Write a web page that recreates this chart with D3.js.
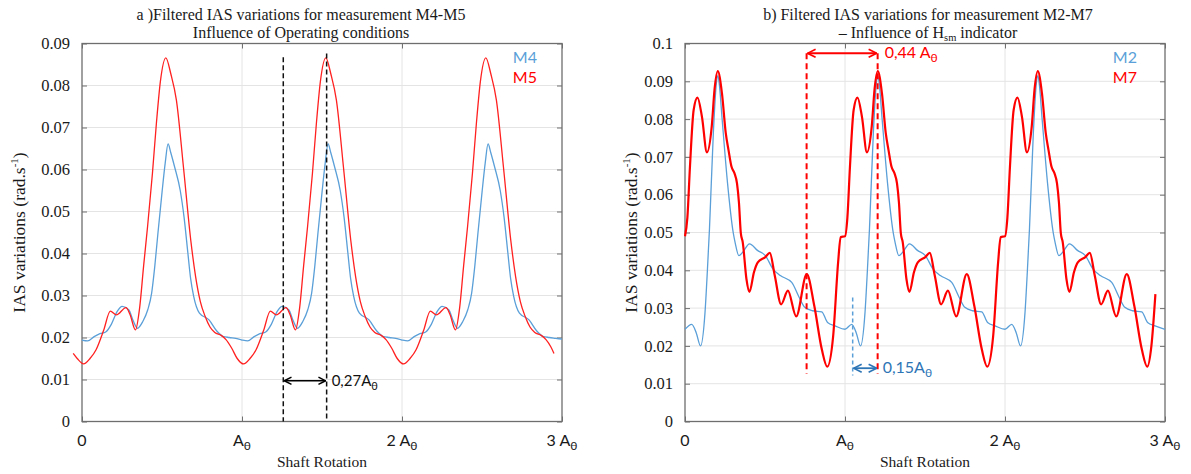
<!DOCTYPE html>
<html><head><meta charset="utf-8">
<script src="https://cdn.jsdelivr.net/npm/d3@7"></script>
<style>body{margin:0;background:#fff}svg{display:block}</style>
</head><body>
<svg id="c" width="1191" height="474"></svg>
<script>
// ---------------- data ----------------
const xTickValues = [0, 1, 2, 3];
const xTickLabels = ["0", "A", "2 A", "3 A"];
const yTicksLeft = [0, 0.01, 0.02, 0.03, 0.04, 0.05, 0.06, 0.07, 0.08, 0.09];
const yTickLabelsLeft = ["0", "0.01", "0.02", "0.03", "0.04", "0.05", "0.06", "0.07", "0.08", "0.09"];
const yTicksRight = [0, 0.01, 0.02, 0.03, 0.04, 0.05, 0.06, 0.07, 0.08, 0.09, 0.1];
const yTickLabelsRight = ["0", "0.01", "0.02", "0.03", "0.04", "0.05", "0.06", "0.07", "0.08", "0.09", "0.1"];

// (a) M4 - blue
const m4 = [
 [0.000,0.0194],[0.035,0.0192],[0.076,0.0202],[0.112,0.0209],[0.148,0.0213],[0.184,0.0232],[0.220,0.0262],[0.251,0.0274],[0.292,0.0266],[0.320,0.0240],[0.347,0.0222],[0.380,0.0238],[0.411,0.0266],[0.435,0.0305],[0.455,0.0370],[0.475,0.0450],[0.500,0.0545],[0.520,0.0615],[0.538,0.0661],[0.555,0.0640],[0.579,0.0606],[0.614,0.0550],[0.638,0.0486],[0.662,0.0400],[0.679,0.0340],[0.698,0.0298],[0.734,0.0258],[0.794,0.0242],[0.841,0.0216],[0.880,0.0203],[0.920,0.0200],[0.960,0.0198],
 [1.000,0.0194],[1.035,0.0192],[1.076,0.0202],[1.112,0.0209],[1.148,0.0213],[1.184,0.0232],[1.220,0.0262],[1.251,0.0274],[1.292,0.0266],[1.320,0.0240],[1.347,0.0222],[1.380,0.0238],[1.411,0.0266],[1.435,0.0305],[1.455,0.0370],[1.475,0.0450],[1.500,0.0545],[1.520,0.0615],[1.538,0.0661],[1.555,0.0640],[1.579,0.0606],[1.614,0.0550],[1.638,0.0486],[1.662,0.0400],[1.679,0.0340],[1.698,0.0298],[1.734,0.0258],[1.794,0.0242],[1.841,0.0216],[1.880,0.0203],[1.920,0.0200],[1.960,0.0198],
 [2.000,0.0194],[2.035,0.0192],[2.076,0.0202],[2.112,0.0209],[2.148,0.0213],[2.184,0.0232],[2.220,0.0262],[2.251,0.0274],[2.292,0.0266],[2.320,0.0240],[2.347,0.0222],[2.380,0.0238],[2.411,0.0266],[2.435,0.0305],[2.455,0.0370],[2.475,0.0450],[2.500,0.0545],[2.520,0.0615],[2.538,0.0661],[2.555,0.0640],[2.579,0.0606],[2.614,0.0550],[2.638,0.0486],[2.662,0.0400],[2.679,0.0340],[2.698,0.0298],[2.734,0.0258],[2.794,0.0242],[2.841,0.0216],[2.880,0.0203],[2.920,0.0200],[2.960,0.0198],[3.000,0.0196]
];
// (a) M5 - red
const m5 = [
 [-0.055,0.0162],[-0.030,0.0150],
 [0.010,0.0137],[0.050,0.0150],[0.088,0.0171],[0.136,0.0218],[0.177,0.0263],[0.215,0.0254],[0.275,0.0271],[0.300,0.0255],[0.334,0.0218],[0.360,0.0270],[0.385,0.0370],[0.410,0.0465],[0.440,0.0590],[0.465,0.0710],[0.490,0.0810],[0.524,0.0866],[0.555,0.0828],[0.590,0.0765],[0.634,0.0606],[0.680,0.0431],[0.710,0.0345],[0.740,0.0285],[0.770,0.0250],[0.800,0.0225],[0.830,0.0212],[0.870,0.0205],[0.900,0.0195],[0.935,0.0175],[0.970,0.0150],
 [1.010,0.0137],[1.050,0.0150],[1.088,0.0171],[1.136,0.0218],[1.177,0.0263],[1.215,0.0254],[1.275,0.0271],[1.300,0.0255],[1.334,0.0218],[1.360,0.0270],[1.385,0.0370],[1.410,0.0465],[1.440,0.0590],[1.465,0.0710],[1.490,0.0810],[1.524,0.0866],[1.555,0.0828],[1.590,0.0765],[1.634,0.0606],[1.680,0.0431],[1.710,0.0345],[1.740,0.0285],[1.770,0.0250],[1.800,0.0225],[1.830,0.0212],[1.870,0.0205],[1.900,0.0195],[1.935,0.0175],[1.970,0.0150],
 [2.010,0.0137],[2.050,0.0150],[2.088,0.0171],[2.136,0.0218],[2.177,0.0263],[2.215,0.0254],[2.275,0.0271],[2.300,0.0255],[2.334,0.0218],[2.360,0.0270],[2.385,0.0370],[2.410,0.0465],[2.440,0.0590],[2.465,0.0710],[2.490,0.0810],[2.524,0.0866],[2.555,0.0828],[2.590,0.0765],[2.634,0.0606],[2.680,0.0431],[2.710,0.0345],[2.740,0.0285],[2.770,0.0250],[2.800,0.0225],[2.830,0.0212],[2.870,0.0205],[2.900,0.0195],[2.930,0.0178],[2.950,0.0162]
];
// (b) M2 - blue
const m2 = [
 [0.000,0.0244],[0.042,0.0257],[0.070,0.0235],[0.097,0.0200],[0.125,0.0288],[0.140,0.0400],[0.153,0.0510],[0.177,0.0762],[0.195,0.0890],[0.205,0.0915],[0.215,0.0890],[0.231,0.0806],[0.266,0.0630],[0.302,0.0498],[0.313,0.0474],[0.337,0.0439],[0.361,0.0448],[0.403,0.0470],[0.455,0.0452],[0.502,0.0439],[0.549,0.0404],[0.596,0.0386],[0.667,0.0368],[0.714,0.0328],[0.749,0.0302],[0.797,0.0293],[0.855,0.0290],[0.891,0.0262],[0.938,0.0253],
 [1.000,0.0244],[1.042,0.0257],[1.070,0.0235],[1.097,0.0200],[1.125,0.0288],[1.140,0.0400],[1.153,0.0510],[1.177,0.0762],[1.195,0.0890],[1.205,0.0915],[1.215,0.0890],[1.231,0.0806],[1.266,0.0630],[1.302,0.0498],[1.313,0.0474],[1.337,0.0439],[1.361,0.0448],[1.403,0.0470],[1.455,0.0452],[1.502,0.0439],[1.549,0.0404],[1.596,0.0386],[1.667,0.0368],[1.714,0.0328],[1.749,0.0302],[1.797,0.0293],[1.855,0.0290],[1.891,0.0262],[1.938,0.0253],
 [2.000,0.0244],[2.042,0.0257],[2.070,0.0235],[2.097,0.0200],[2.125,0.0288],[2.140,0.0400],[2.153,0.0510],[2.177,0.0762],[2.195,0.0890],[2.205,0.0915],[2.215,0.0890],[2.231,0.0806],[2.266,0.0630],[2.302,0.0498],[2.313,0.0474],[2.337,0.0439],[2.361,0.0448],[2.403,0.0470],[2.455,0.0452],[2.502,0.0439],[2.549,0.0404],[2.596,0.0386],[2.667,0.0368],[2.714,0.0328],[2.749,0.0302],[2.797,0.0293],[2.855,0.0290],[2.891,0.0262],[2.938,0.0253],[3.000,0.0244]
];
// (b) M7 - red
const m7 = [
 [0.000,0.0490],[0.015,0.0540],[0.031,0.0674],[0.054,0.0824],[0.078,0.0857],[0.106,0.0806],[0.137,0.0712],[0.167,0.0780],[0.185,0.0880],[0.205,0.0927],[0.231,0.0868],[0.255,0.0762],[0.272,0.0718],[0.290,0.0675],[0.309,0.0657],[0.325,0.0630],[0.337,0.0580],[0.349,0.0498],[0.361,0.0474],[0.384,0.0377],[0.403,0.0343],[0.431,0.0395],[0.455,0.0421],[0.502,0.0435],[0.530,0.0446],[0.561,0.0386],[0.601,0.0310],[0.643,0.0346],[0.695,0.0278],[0.761,0.0390],[0.808,0.0306],[0.855,0.0191],[0.889,0.0145],[0.926,0.0226],[0.957,0.0421],[0.973,0.0488],
 [1.000,0.0490],[1.015,0.0540],[1.031,0.0674],[1.054,0.0824],[1.078,0.0857],[1.106,0.0806],[1.137,0.0712],[1.167,0.0780],[1.185,0.0880],[1.205,0.0927],[1.231,0.0868],[1.255,0.0762],[1.272,0.0718],[1.290,0.0675],[1.309,0.0657],[1.325,0.0630],[1.337,0.0580],[1.349,0.0498],[1.361,0.0474],[1.384,0.0377],[1.403,0.0343],[1.431,0.0395],[1.455,0.0421],[1.502,0.0435],[1.530,0.0446],[1.561,0.0386],[1.601,0.0310],[1.643,0.0346],[1.695,0.0278],[1.761,0.0390],[1.808,0.0306],[1.855,0.0191],[1.889,0.0145],[1.926,0.0226],[1.957,0.0421],[1.973,0.0488],
 [2.000,0.0490],[2.015,0.0540],[2.031,0.0674],[2.054,0.0824],[2.078,0.0857],[2.106,0.0806],[2.137,0.0712],[2.167,0.0780],[2.185,0.0880],[2.205,0.0927],[2.231,0.0868],[2.255,0.0762],[2.272,0.0718],[2.290,0.0675],[2.309,0.0657],[2.325,0.0630],[2.337,0.0580],[2.349,0.0498],[2.361,0.0474],[2.384,0.0377],[2.403,0.0343],[2.431,0.0395],[2.455,0.0421],[2.502,0.0435],[2.530,0.0446],[2.561,0.0386],[2.601,0.0310],[2.643,0.0346],[2.695,0.0278],[2.761,0.0390],[2.808,0.0306],[2.855,0.0191],[2.889,0.0145],[2.915,0.0200],[2.940,0.0337]
];

// annotation values (data units)
const leftMarkX = [1.258, 1.529];
const leftMarkTop = [0.0867, 0.0876];
const leftArrowY = 0.0097;
const rightRedX = [0.760, 1.204];
const rightRedSpan = [0.0974, 0.0126];
const rightBlueX = 1.048;
const rightBlueSpan = [0.0328, 0.0122];
const rightBlueArrowY = 0.0141;

// ---------------- drawing ----------------
const svg = d3.select("#c");
const SERIF = "'Liberation Serif','Times New Roman',serif";
const SANS = "Lato, 'Open Sans', sans-serif";
const BLUE = "#5a9fd8", RED = "#ff0000", DBLUE = "#2e75b6";

const defs = svg.append("defs");
function marker(id, color, size) {
  defs.append("marker").attr("id", id).attr("viewBox", "0 0 10 10")
    .attr("refX", 9.5).attr("refY", 5).attr("markerWidth", size).attr("markerHeight", size)
    .attr("markerUnits", "userSpaceOnUse").attr("orient", "auto-start-reverse")
    .append("path").attr("d", "M1.5,1 L9.5,5 L1.5,9").attr("fill", "none")
    .attr("stroke", color).attr("stroke-width", 1.6);
}
marker("arK", "#000", 9);
marker("arR", RED, 10);
marker("arB", DBLUE, 10);

function panel(cfg) {
  const g = svg.append("g");
  const x = d3.scaleLinear().domain([0, 3]).range([cfg.x0, cfg.x1]);
  const y = d3.scaleLinear().domain([0, cfg.yMax]).range([cfg.y1, cfg.y0]);

  // grid
  g.selectAll(".gy").data(cfg.yTicks.filter(v => v > 0 && v < cfg.yMax - 1e-9)).enter().append("line")
    .attr("x1", cfg.x0).attr("x2", cfg.x1).attr("y1", d => y(d)).attr("y2", d => y(d))
    .attr("stroke", "#e4e4e4").attr("stroke-width", 1);
  g.selectAll(".gx").data(xTickValues.filter(v => v > 0 && v < 3)).enter().append("line")
    .attr("y1", cfg.y0).attr("y2", cfg.y1).attr("x1", d => x(d)).attr("x2", d => x(d))
    .attr("stroke", "#e4e4e4").attr("stroke-width", 1);

  // axes using d3 axis (inner ticks), styled
  const yAxisL = d3.axisLeft(y).tickValues(cfg.yTicks).tickSize(-5).tickFormat((d, i) => cfg.yLabels[i]).tickPadding(12);
  const yAl = g.append("g").attr("transform", `translate(${cfg.x0},0)`).call(yAxisL);
  yAl.select(".domain").remove();
  yAl.selectAll("line").attr("stroke", "#707070");
  yAl.selectAll("text").attr("font-family", SERIF).attr("font-size", 16.5).attr("fill", "#1a1a1a");
  const yAxisR = d3.axisRight(y).tickValues(cfg.yTicks).tickSize(-5).tickFormat("");
  const yAr = g.append("g").attr("transform", `translate(${cfg.x1},0)`).call(yAxisR);
  yAr.select(".domain").remove();
  yAr.selectAll("line").attr("stroke", "#707070");
  const xAxisB = d3.axisBottom(x).tickValues(xTickValues).tickSize(-5).tickFormat("");
  const xAb = g.append("g").attr("transform", `translate(0,${cfg.y1})`).call(xAxisB);
  xAb.select(".domain").remove();
  xAb.selectAll("line").attr("stroke", "#707070");
  const xAxisT = d3.axisTop(x).tickValues(xTickValues).tickSize(-5).tickFormat("");
  const xAt = g.append("g").attr("transform", `translate(0,${cfg.y0})`).call(xAxisT);
  xAt.select(".domain").remove();
  xAt.selectAll("line").attr("stroke", "#707070");

  // x tick labels with subscript theta
  xTickValues.forEach((v, i) => {
    const t = g.append("text").attr("x", x(v)).attr("y", cfg.y1 + 24).attr("text-anchor", "middle")
      .attr("font-family", SANS).attr("font-size", 16).attr("fill", "#1a1a1a");
    t.append("tspan").text(xTickLabels[i]);
    if (xTickLabels[i].includes("A")) t.append("tspan").attr("font-size", 12).attr("dy", 4).text("θ");
  });

  // frame
  g.append("rect").attr("x", cfg.x0).attr("y", cfg.y0).attr("width", cfg.x1 - cfg.x0).attr("height", cfg.y1 - cfg.y0)
    .attr("fill", "none").attr("stroke", "#6e6e6e").attr("stroke-width", 1.3);

  // series
  const line = d3.line().x(d => x(d[0])).y(d => y(d[1])).curve(d3.curveMonotoneX);
  cfg.series.forEach(s => {
    g.append("path").datum(s.data).attr("d", line).attr("fill", "none")
      .attr("stroke", s.color).attr("stroke-width", s.width).attr("stroke-linejoin", "round");
  });

  // legend
  cfg.legend.forEach((l, i) => {
    g.append("text").attr("x", cfg.legendX).attr("y", cfg.y0 + 19 + i * 20).attr("text-anchor", "end")
      .attr("font-family", SANS).attr("font-size", 16).attr("fill", l.color).text(l.name);
  });

  // titles
  g.append("text").attr("x", cfg.titleX).attr("y", 20).attr("text-anchor", "middle")
    .attr("font-family", SERIF).attr("font-size", 16).attr("fill", "#1a1a1a").text(cfg.title1);
  const t2 = g.append("text").attr("x", cfg.titleX).attr("y", 38).attr("text-anchor", "middle")
    .attr("font-family", SERIF).attr("font-size", 16).attr("fill", "#1a1a1a");
  cfg.title2.forEach(p => {
    const ts = t2.append("tspan").text(p.t);
    if (p.sub) ts.attr("font-size", 10.5).attr("dy", 3);
    if (p.after) ts.attr("dy", -3);
  });

  g.append("text").attr("x", (cfg.x0 + cfg.x1) / 2).attr("y", 467).attr("text-anchor", "middle")
    .attr("font-family", SERIF).attr("font-size", 15.5).attr("fill", "#1a1a1a").text("Shaft Rotation");

  const yl = g.append("text").attr("transform", `translate(${cfg.ylabX},${(cfg.y0 + cfg.y1) / 2}) rotate(-90)`)
    .attr("text-anchor", "middle").attr("font-family", SERIF).attr("font-size", 17.5).attr("fill", "#1a1a1a");
  yl.append("tspan").text("IAS variations (rad.s");
  yl.append("tspan").attr("font-size", 11).attr("dy", -7).text("-1");
  yl.append("tspan").attr("dy", 7).text(")");

  return {g, x, y};
}

// ---- panel a ----
const A = panel({
  x0: 82, x1: 562, y0: 43.5, y1: 421.5, yMax: 0.09,
  yTicks: yTicksLeft, yLabels: yTickLabelsLeft,
  series: [{data: m4, color: BLUE, width: 1.3}, {data: m5, color: "#ff2020", width: 1.3}],
  legend: [{name: "M4", color: BLUE}, {name: "M5", color: RED}], legendX: 537,
  titleX: 301, title1: "a )Filtered IAS variations for measurement M4-M5",
  title2: [{t: "Influence of Operating conditions"}],
  ylabX: 25
});
leftMarkX.forEach((v, i) => {
  A.g.append("line").attr("x1", A.x(v)).attr("x2", A.x(v)).attr("y1", A.y(leftMarkTop[i])).attr("y2", A.y(0))
    .attr("stroke", "#111").attr("stroke-width", 1.5).attr("stroke-dasharray", "5,3");
});
A.g.append("line").attr("x1", A.x(leftMarkX[0]) + 1).attr("x2", A.x(leftMarkX[1]) - 1)
  .attr("y1", A.y(leftArrowY)).attr("y2", A.y(leftArrowY)).attr("stroke", "#000").attr("stroke-width", 1.5)
  .attr("marker-start", "url(#arK)").attr("marker-end", "url(#arK)");
{
  const t = A.g.append("text").attr("x", A.x(leftMarkX[1]) + 5).attr("y", A.y(leftArrowY) + 5)
    .attr("font-family", SANS).attr("font-size", 15).attr("fill", "#111");
  t.append("tspan").text("0,27A");
  t.append("tspan").attr("font-size", 11).attr("dy", 4).text("θ");
}

// ---- panel b ----
const B = panel({
  x0: 685, x1: 1165, y0: 43.5, y1: 421.5, yMax: 0.1,
  yTicks: yTicksRight, yLabels: yTickLabelsRight,
  series: [{data: m2, color: BLUE, width: 1.3}, {data: m7, color: RED, width: 2.2}],
  legend: [{name: "M2", color: BLUE}, {name: "M7", color: RED}], legendX: 1137,
  titleX: 928, title1: "b) Filtered IAS variations for measurement M2-M7",
  title2: [{t: "– Influence of H"}, {t: "sm", sub: true}, {t: " indicator", after: true}],
  ylabX: 637
});
rightRedX.forEach(v => {
  B.g.append("line").attr("x1", B.x(v)).attr("x2", B.x(v)).attr("y1", B.y(rightRedSpan[0])).attr("y2", B.y(rightRedSpan[1]))
    .attr("stroke", RED).attr("stroke-width", 2).attr("stroke-dasharray", "6,4");
});
B.g.append("line").attr("x1", B.x(rightRedX[0]) + 1).attr("x2", B.x(rightRedX[1]) - 1)
  .attr("y1", B.y(rightRedSpan[0])).attr("y2", B.y(rightRedSpan[0])).attr("stroke", RED).attr("stroke-width", 2)
  .attr("marker-start", "url(#arR)").attr("marker-end", "url(#arR)");
{
  const t = B.g.append("text").attr("x", B.x(rightRedX[1]) + 7).attr("y", B.y(rightRedSpan[0]) + 5)
    .attr("font-family", SANS).attr("font-size", 16).attr("fill", RED);
  t.append("tspan").text("0,44 A");
  t.append("tspan").attr("font-size", 12).attr("dy", 4).text("θ");
}
B.g.append("line").attr("x1", B.x(rightBlueX)).attr("x2", B.x(rightBlueX)).attr("y1", B.y(rightBlueSpan[0])).attr("y2", B.y(rightBlueSpan[1]))
  .attr("stroke", BLUE).attr("stroke-width", 1.5).attr("stroke-dasharray", "4,3");
B.g.append("line").attr("x1", B.x(rightBlueX) + 1).attr("x2", B.x(rightRedX[1]) - 1)
  .attr("y1", B.y(rightBlueArrowY)).attr("y2", B.y(rightBlueArrowY)).attr("stroke", DBLUE).attr("stroke-width", 1.8)
  .attr("marker-start", "url(#arB)").attr("marker-end", "url(#arB)");
{
  const t = B.g.append("text").attr("x", B.x(rightRedX[1]) + 5).attr("y", B.y(rightBlueArrowY) + 5)
    .attr("font-family", SANS).attr("font-size", 16).attr("fill", DBLUE);
  t.append("tspan").text("0,15A");
  t.append("tspan").attr("font-size", 12).attr("dy", 4).text("θ");
}
</script>
</body></html>
